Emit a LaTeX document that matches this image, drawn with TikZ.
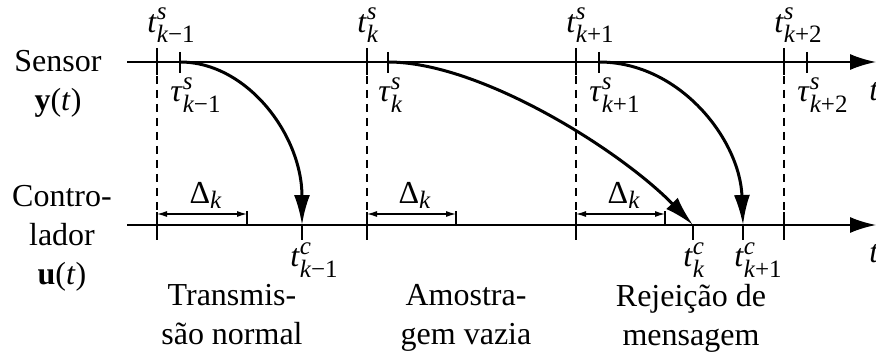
\documentclass[tikz,border=0pt]{standalone}
\usepackage{fontspec}
\usepackage{amsmath}
\setmainfont{Liberation Serif}
\DeclareMathSizes{16}{16}{12.5}{10}
\usetikzlibrary{arrows.meta}

% instant label: letter, superscript, subscript
\newcommand{\evt}[3]{\textit{#1}$^{\text{\itshape #2}}_{\text{\itshape #3}}$}

\begin{document}
\begin{tikzpicture}[
    x=0.5pt, y=-0.5pt,
    font=\fontsize{16}{19.5}\selectfont,
    axisline/.style={line width=1pt, -{Latex[length=13pt,width=8pt]}},
    tickmark/.style={line width=0.8pt},
    guideline/.style={dashed, line width=0.6pt, dash pattern=on 4pt off 3pt},
    delayline/.style={line width=0.6pt, {Latex[length=5pt,width=3pt]}-{Latex[length=5pt,width=3pt]}},
    msgarrow/.style={line width=1.5pt, -{Latex[length=15pt,width=8pt]}},
    ticklabel/.style={inner sep=0pt},
    caselabel/.style={align=center, anchor=north, inner sep=0pt},
]
\useasboundingbox (0,0) rectangle (876,352);

% axes
\coordinate (sensorstart) at (127,62);
\coordinate (sensorend) at (876,62);
\coordinate (ctrlstart) at (127,225);
\coordinate (ctrlend) at (876,225);

% sampling instants on the sensor axis
\coordinate (ts1) at (157,62);
\coordinate (ts2) at (367,62);
\coordinate (ts3) at (576,62);
\coordinate (ts4) at (784,62);
\coordinate (taus1) at (180,62);
\coordinate (taus2) at (388,62);
\coordinate (taus3) at (599,62);
\coordinate (taus4) at (807,62);

% same instants on the controller axis
\coordinate (ct1) at (157,225);
\coordinate (ct2) at (367,225);
\coordinate (ct3) at (576,225);
\coordinate (ct4) at (784,225);
\coordinate (dA) at (247,225);
\coordinate (dB) at (456,225);
\coordinate (dC) at (665,225);
\coordinate (tc1) at (302,225);
\coordinate (tc2) at (693,225);
\coordinate (tc3) at (743,225);

\draw[guideline] (ts1) -- (ct1);
\draw[guideline] (ts2) -- (ct2);
\draw[guideline] (ts3) -- (ct3);
\draw[guideline] (ts4) -- (ct4);

\draw[axisline] (sensorstart) -- (sensorend);
\draw[axisline] (ctrlstart) -- (ctrlend);

\draw[tickmark] (ts1) ++(0,-14) -- ++(0,27);
\draw[tickmark] (ts2) ++(0,-14) -- ++(0,27);
\draw[tickmark] (ts3) ++(0,-14) -- ++(0,27);
\draw[tickmark] (ts4) ++(0,-14) -- ++(0,27);
\draw[tickmark] (taus1) ++(0,-10) -- ++(0,21);
\draw[tickmark] (taus2) ++(0,-10) -- ++(0,21);
\draw[tickmark] (taus3) ++(0,-10) -- ++(0,21);
\draw[tickmark] (taus4) ++(0,-10) -- ++(0,21);

\draw[tickmark] (ct1) ++(0,-13) -- ++(0,28);
\draw[tickmark] (ct2) ++(0,-13) -- ++(0,28);
\draw[tickmark] (ct3) ++(0,-13) -- ++(0,28);
\draw[tickmark] (ct4) ++(0,-13) -- ++(0,28);
\draw[tickmark] (tc1) -- ++(0,15);
\draw[tickmark] (tc2) -- ++(0,15);
\draw[tickmark] (tc3) -- ++(0,15);

% delays
\draw[tickmark] (dA) -- ++(0,-14);
\draw[tickmark] (dB) -- ++(0,-14);
\draw[tickmark] (dC) -- ++(0,-14);
\draw[delayline] ([yshift=5.5pt]ct1) -- ([yshift=5.5pt]dA);
\draw[delayline] ([yshift=5.5pt]ct2) -- ([yshift=5.5pt]dB);
\draw[delayline] ([yshift=5.5pt]ct3) -- ([yshift=5.5pt]dC);
\node[ticklabel, anchor=south] (deltaA) at (206,209) {Δ$_{\text{\itshape k}}$};
\node[ticklabel, anchor=south] (deltaB) at (415,209) {Δ$_{\text{\itshape k}}$};
\node[ticklabel, anchor=south] (deltaC) at (624,209) {Δ$_{\text{\itshape k}}$};

% messages
\draw[msgarrow] (taus1) .. controls (247,62) and (302,135) .. (tc1);
\draw[msgarrow] (taus2) .. controls (480,62) and (620,150) .. (tc2);
\draw[msgarrow] (taus3) .. controls (680,62) and (740,140) .. (tc3);

% instant labels
\node[ticklabel, anchor=south west] (lts1) at (147,43) {\evt{t}{s}{k\upshape−1}};
\node[ticklabel, anchor=south west] (lts2) at (357,43) {\evt{t}{s}{k}};
\node[ticklabel, anchor=south west] (lts3) at (566,43) {\evt{t}{s}{k\upshape+1}};
\node[ticklabel, anchor=south west] (lts4) at (774,43) {\evt{t}{s}{k\upshape+2}};
\node[ticklabel, anchor=north west] (ltaus1) at (170,77) {\evt{τ}{s}{k\upshape−1}};
\node[ticklabel, anchor=north west] (ltaus2) at (378,77) {\evt{τ}{s}{k}};
\node[ticklabel, anchor=north west] (ltaus3) at (589,77) {\evt{τ}{s}{k\upshape+1}};
\node[ticklabel, anchor=north west] (ltaus4) at (797,77) {\evt{τ}{s}{k\upshape+2}};
\node[ticklabel, anchor=north west] (ltc1) at (290,242) {\evt{t}{c}{k\upshape−1}};
\node[ticklabel, anchor=north west] (ltc2) at (683,242) {\evt{t}{c}{k}};
\node[ticklabel, anchor=north west] (ltc3) at (734,242) {\evt{t}{c}{k\upshape+1}};
\node[ticklabel, anchor=north west] (tsensor) at (869,82) {\textit{t}};
\node[ticklabel, anchor=north west] (tctrl) at (869,244) {\textit{t}};

% axis names
\node[align=center] (sensorlabel) at (58,84) {Sensor\\\textbf{y}(\textit{t})};
\node[align=center] (ctrllabel) at (62,238) {Contro-\\lador\\\textbf{u}(\textit{t})};

% cases
\node[caselabel] (casenormal) at (232,284) {Transmis-\\são normal};
\node[caselabel] (caseempty) at (466,284) {Amostra-\\gem vazia};
\node[caselabel] (casereject) at (691,284) {Rejeição de\\mensagem};

\end{tikzpicture}
\end{document}
